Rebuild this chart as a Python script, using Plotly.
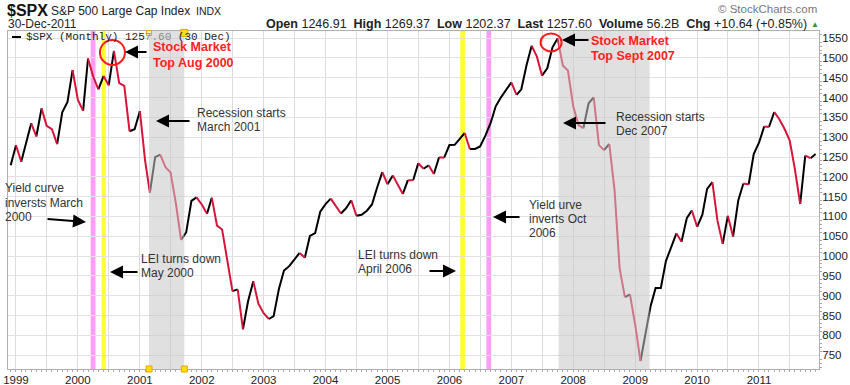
import plotly.graph_objects as go
import pandas as pd

# ---------------- data (monthly closes, Dec 1998 .. Dec 2011) ----------------
close_1998 = [1229.23]
close_1999 = [1279.64, 1238.33, 1286.37, 1335.18, 1301.84, 1372.71, 1328.72, 1320.41, 1282.71, 1362.93, 1388.91, 1469.25]
close_2000 = [1394.46, 1366.42, 1498.58, 1452.43, 1420.60, 1454.60, 1430.83, 1517.68, 1436.51, 1429.40, 1314.95, 1320.28]
close_2001 = [1366.01, 1239.94, 1160.33, 1249.46, 1255.82, 1224.42, 1211.23, 1133.58, 1040.94, 1059.78, 1139.45, 1148.08]
close_2002 = [1130.20, 1106.73, 1147.39, 1076.92, 1067.14, 989.82, 911.62, 916.07, 815.28, 885.76, 936.31, 879.82]
close_2003 = [855.70, 841.15, 848.18, 916.92, 963.59, 974.50, 990.31, 1008.01, 995.97, 1050.71, 1058.20, 1111.92]
close_2004 = [1131.13, 1144.94, 1126.21, 1107.30, 1120.68, 1140.84, 1101.72, 1104.24, 1114.58, 1130.20, 1173.82, 1211.92]
close_2005 = [1181.27, 1203.60, 1180.59, 1156.85, 1191.50, 1191.33, 1234.18, 1220.33, 1228.81, 1207.01, 1249.48, 1248.29]
close_2006 = [1280.08, 1280.66, 1294.83, 1310.61, 1270.09, 1270.20, 1276.66, 1303.82, 1335.85, 1377.94, 1400.63, 1418.30]
close_2007 = [1438.24, 1406.82, 1420.86, 1482.37, 1530.62, 1503.35, 1455.27, 1473.99, 1526.75, 1549.38, 1481.14, 1468.36]
close_2008 = [1378.55, 1330.63, 1322.70, 1385.59, 1400.38, 1280.00, 1267.38, 1282.83, 1166.36, 968.75, 896.24, 903.25]
close_2009 = [825.88, 735.09, 797.87, 872.81, 919.14, 919.32, 987.48, 1020.62, 1057.08, 1036.19, 1095.63, 1115.10]
close_2010 = [1073.87, 1104.49, 1169.43, 1186.69, 1089.41, 1030.71, 1101.60, 1049.33, 1141.20, 1183.26, 1180.55, 1257.64]
close_2011 = [1286.12, 1327.22, 1325.83, 1363.61, 1345.20, 1320.64, 1292.28, 1218.89, 1131.42, 1253.30, 1246.96, 1257.60]

closes = (close_1998 + close_1999 + close_2000 + close_2001 + close_2002 + close_2003 +
          close_2004 + close_2005 + close_2006 + close_2007 + close_2008 + close_2009 +
          close_2010 + close_2011)
dates = list(pd.date_range("1998-12-01", periods=len(closes), freq="MS"))

year_labels = [str(y) for y in range(1999, 2012)]

recession_bands = [("2001-02-24", "2001-09-20"), ("2007-10-07", "2009-03-27")]
yield_curve_bands = [("2000-03-17", "2000-04-14"), ("2006-08-07", "2006-09-04")]
lei_bands = [("2000-05-21", "2000-06-14"), ("2006-03-06", "2006-04-03")]

UP = "#000000"
DOWN = "#d8143a"
FONT = "Liberation Sans"

# ---------------- geometry helpers (plot area in pixels) ----------------
PL, PR, PT, PB = 8, 819, 31, 369


def px(x):
    return (x - PL) / (PR - PL)


def py(y):
    return (PB - y) / (PB - PT)


fig = go.Figure()

# up / down coloured line segments
runs = []
for i in range(1, len(closes)):
    c = UP if closes[i] >= closes[i - 1] else DOWN
    if runs and runs[-1][0] == c:
        runs[-1][2] = i
    else:
        runs.append([c, i - 1, i])

for color in (UP, DOWN):
    xs, ys = [], []
    for c, a, b in runs:
        if c != color:
            continue
        xs += dates[a:b + 1] + [None]
        ys += closes[a:b + 1] + [None]
    fig.add_trace(go.Scatter(x=xs, y=ys, mode="lines",
                             line=dict(color=color, width=2),
                             hoverinfo="skip", showlegend=False))

shapes = []
for x0, x1 in yield_curve_bands:
    shapes.append(dict(type="rect", xref="x", yref="paper", x0=x0, x1=x1, y0=0, y1=1,
                       fillcolor="#ff9cf6", line=dict(width=0), layer="below"))
for x0, x1 in lei_bands:
    shapes.append(dict(type="rect", xref="x", yref="paper", x0=x0, x1=x1, y0=0, y1=1,
                       fillcolor="#ffff33", line=dict(width=0), layer="below"))
for x0, x1 in recession_bands:
    shapes.append(dict(type="rect", xref="x", yref="paper", x0=x0, x1=x1, y0=0, y1=1,
                       fillcolor="rgba(199,199,199,0.55)", line=dict(width=0), layer="above"))

# small handle squares on the first recession band
r0, r1 = recession_bands[0]
for xa, ya, half, fill in [(r0, 1, 2.5, "#fff6c0"), (r1, 1, 3.5, "#ffe000"),
                           (r0, 0, 3, "#ffe000"), (r1, 0, 3, "#ffe000")]:
    yc = -2 if ya == 1 else 0
    shapes.append(dict(type="rect", xref="x", yref="paper", xsizemode="pixel", ysizemode="pixel",
                       xanchor=xa, yanchor=ya, x0=-half, x1=half, y0=yc - half, y1=yc + half,
                       fillcolor=fill, line=dict(color="#f0a000", width=1), layer="above"))

# red circles around the two market tops
i2000 = max(range(len(closes)), key=lambda i: closes[i] if dates[i].year == 2000 else 0)
i2007 = max(range(len(closes)), key=lambda i: closes[i] if dates[i].year == 2007 else 0)
shapes.append(dict(type="circle", xref="x", yref="y", xsizemode="pixel", ysizemode="pixel",
                   xanchor=dates[i2000], yanchor=closes[i2000], x0=-14, x1=11, y0=-14, y1=11,
                   line=dict(color="#ff1a1a", width=2), layer="above"))
shapes.append(dict(type="circle", xref="x", yref="y", xsizemode="pixel", ysizemode="pixel",
                   xanchor=dates[i2007], yanchor=closes[i2007], x0=-17, x1=4, y0=-13, y1=5,
                   line=dict(color="#ff1a1a", width=2), layer="above"))

# legend dash
shapes.append(dict(type="line", xref="paper", yref="paper", x0=px(12), x1=px(21),
                   y0=py(37), y1=py(37), line=dict(color="#000", width=2)))

annotations = []


def label(x, y, text, size=12, color="#333333", anchor="left", family=FONT):
    annotations.append(dict(x=px(x), y=py(y), xref="paper", yref="paper", text=text,
                            showarrow=False, xanchor=anchor, yanchor="middle",
                            borderpad=0, font=dict(family=family, size=size, color=color)))


def arrow(xt, yt, xh, yh):
    annotations.append(dict(x=px(xh), y=py(yh), xref="paper", yref="paper", text="",
                            showarrow=True, ax=xt - xh, ay=yt - yh, arrowhead=2,
                            arrowsize=1.3, arrowwidth=2, arrowcolor="#000"))


# header
label(6, 10, "<b>$SPX</b>", size=16, color="#111")
label(50, 11, "S&P 500 Large Cap Index", size=12, color="#222")
label(195, 11, "INDX", size=10.5, color="#222")
label(7, 24, "30-Dec-2011", size=12, color="#222")
label(808, 24, "<b>Open</b> 1246.91  <b>High</b> 1269.37  <b>Low</b> 1202.37  <b>Last</b> 1257.60  "
               "<b>Volume</b> 56.2B  <b>Chg</b> +10.64 (+0.85%)", size=12.5, color="#222", anchor="right")
label(810, 25, "▲", size=8, color="#2a9a2a")
label(818, 9, "© StockCharts.com", size=11.5, color="#777", anchor="right")

# legend text
label(25, 37, "$SPX (Monthly) 125<span style='color:#8a8a8a'>7.60 </span>(30 Dec)",
      size=11, color="#222", family="Liberation Mono")

# annotations in chart
RED = "#ff2222"
label(152, 47, "<b>Stock Market</b>", size=12.5, color=RED)
label(152, 63, "<b>Top Aug 2000</b>", size=12.5, color=RED)
arrow(148, 52, 125, 52)

label(196, 113, "Recession starts", size=12)
label(196, 127, "March 2001", size=12)
arrow(191, 121, 156, 121)

label(4, 188, "Yield curve", size=12)
label(4, 203, "inversts March", size=12)
label(4, 217, "2000", size=12)
arrow(46, 219, 86, 222)

label(140, 259, "LEI turns down", size=12)
label(140, 273, "May 2000", size=12)
arrow(139, 272, 110, 272)

label(357, 255, "LEI turns down", size=12)
label(357, 269, "April 2006", size=12)
arrow(428, 271, 456, 271)

label(528, 205, "Yield urve", size=12)
label(528, 219, "inverts Oct", size=12)
label(528, 233, "2006", size=12)
arrow(521, 217, 493, 217)

label(590, 41, "<b>Stock Market</b>", size=12.5, color=RED)
label(590, 56, "<b>Top Sept 2007</b>", size=12.5, color=RED)
arrow(590, 40, 562, 40)

label(615, 117, "Recession starts", size=12)
label(615, 131, "Dec 2007", size=12)
arrow(607, 123, 563, 123)

# ---------------- axes / layout ----------------
tickvals, ticktext = [], []
for y in range(1999, 2012):
    tickvals += [f"{y}-01-01", f"{y}-07-01"]
    ticktext += [str(y), ""]

fig.update_layout(
    width=850, height=385,
    margin=dict(l=PL, r=850 - PR, t=PT, b=385 - PB, autoexpand=False),
    paper_bgcolor="white", plot_bgcolor="white",
    showlegend=False,
    shapes=shapes, annotations=annotations,
    xaxis=dict(type="date", range=["1998-11-15", "2011-12-21"], automargin=False,
               tickmode="array", tickvals=tickvals, ticktext=ticktext,
               showgrid=True, gridcolor="#dcdcdc", gridwidth=1,
               ticks="", tickfont=dict(family=FONT, size=11.5, color="#222"),
               showline=True, linecolor="#b0b0b0", mirror=True, zeroline=False,
               minor=dict(tickmode="linear", tick0="1999-01-01", dtick="M1",
                          ticks="outside", ticklen=2, tickcolor="#aaaaaa", showgrid=False)),
    yaxis=dict(range=[715, 1568], side="right", tick0=750, dtick=50, automargin=False,
               showgrid=True, gridcolor="#e2e2e2", gridwidth=1,
               ticks="", tickfont=dict(family=FONT, size=11.5, color="#222"),
               showline=True, linecolor="#b0b0b0", mirror=True, zeroline=False,
               minor=dict(dtick=10, ticks="outside", ticklen=2, tickcolor="#aaaaaa", showgrid=False)),
)

fig.write_html("out.html", config={"displayModeBar": False},
               post_script="document.body.style.margin='0';document.body.style.padding='0';"
                           "document.body.style.overflow='hidden';")
